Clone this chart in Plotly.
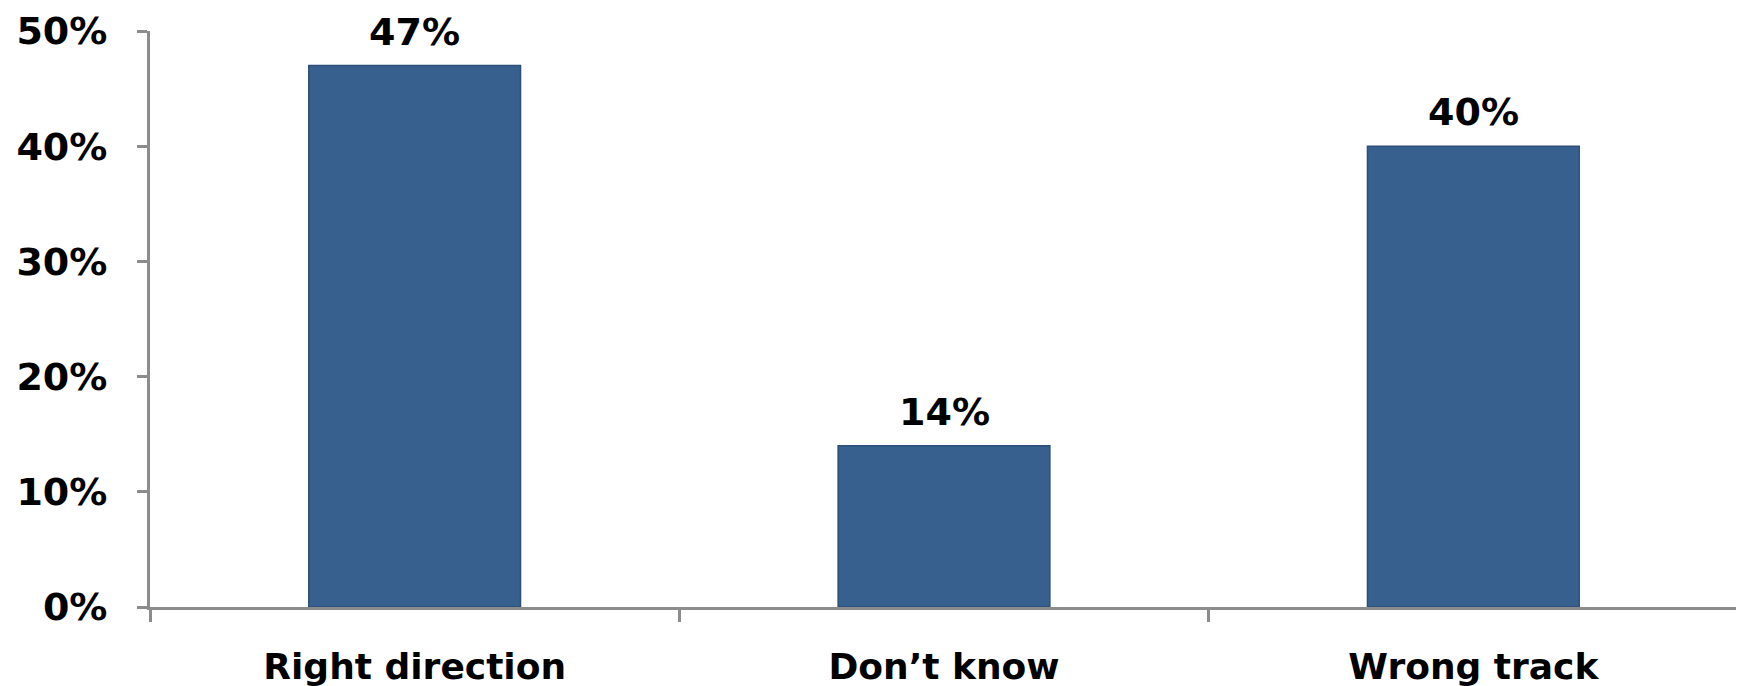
import plotly.graph_objects as go

categories = ["Right direction", "Don\u2019t know", "Wrong track"]
values = [0.47, 0.14, 0.40]
value_labels = ["47%", "14%", "40%"]
y_tick_vals = [0, 0.1, 0.2, 0.3, 0.4, 0.5]
y_tick_text = ["0%", "10%", "20%", "30%", "40%", "50%"]

FONT = "DejaVu Sans"
FS = 36
FS_NUM = 38
BAR = "#37608f"
AXIS = "#8c8c8c"

fig = go.Figure()
fig.add_trace(go.Bar(
    x=categories, y=values,
    marker=dict(color=BAR, line=dict(color="#2c4e78", width=1.5)),
    width=0.4,
    hoverinfo="skip",
))

for c, v, t in zip(categories, values, value_labels):
    fig.add_annotation(
        x=c, y=v, text="<b>%s</b>" % t, showarrow=False,
        yanchor="bottom", yshift=10,
        font=dict(family=FONT, size=FS_NUM, color="black"),
    )

fig.update_layout(
    width=1744, height=686,
    margin=dict(l=142, r=14, t=23, b=87),
    paper_bgcolor="white", plot_bgcolor="white",
    showlegend=False,
    font=dict(family=FONT, size=FS, color="black"),
)
fig.update_xaxes(
    type="category", automargin=False,
    showline=True, linecolor=AXIS, linewidth=3,
    ticks="outside", tickson="boundaries", ticklen=12, tickwidth=3, tickcolor=AXIS,
    tickfont=dict(family=FONT, size=FS, color="black", weight="bold"),
    ticklabelstandoff=26,
    showgrid=False, zeroline=False,
)
fig.update_yaxes(
    range=[0, 0.5], automargin=False,
    tickvals=y_tick_vals, ticktext=y_tick_text,
    showline=True, linecolor=AXIS, linewidth=3,
    ticks="outside", ticklen=10, tickwidth=3, tickcolor=AXIS,
    tickfont=dict(family=FONT, size=FS_NUM, color="black", weight="bold"),
    ticklabelstandoff=22,
    showgrid=False, zeroline=False,
)

fig.write_html("out.html")
